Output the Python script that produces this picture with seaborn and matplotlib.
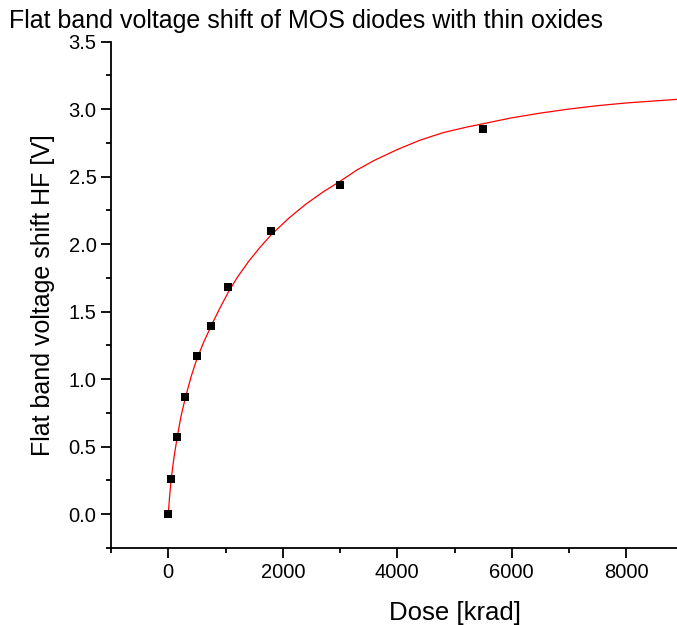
import numpy as np
import pandas as pd
import seaborn as sns
import matplotlib.pyplot as plt
from matplotlib.ticker import MultipleLocator

# measured points
dose = [0, 50, 150, 300, 500, 750, 1050, 1800, 3000, 5500]
shift = [0.0, 0.26, 0.57, 0.87, 1.17, 1.39, 1.68, 2.10, 2.44, 2.85]

# fit curve
fit_dose = [0, 25, 50, 100, 150, 220, 300, 400, 500, 620, 750, 900, 1050,
            1200, 1400, 1600, 1800, 2100, 2400, 2700, 3000, 3300, 3600, 4000,
            4400, 4800, 5200, 5600, 6000, 6500, 7000, 7500, 8000, 8500, 9000]
fit_shift = [0.0, 0.14, 0.255, 0.42, 0.555, 0.72, 0.865, 1.02, 1.15, 1.275,
             1.395, 1.525, 1.645, 1.75, 1.87, 1.975, 2.07, 2.19, 2.295, 2.385,
             2.465, 2.55, 2.62, 2.70, 2.77, 2.825, 2.865, 2.90, 2.935, 2.97,
             3.00, 3.025, 3.045, 3.06, 3.075]

sns.set_style("ticks")
plt.rcParams['font.family'] = ['Liberation Sans', 'DejaVu Sans']

fig = plt.figure(figsize=(6.77, 6.25), dpi=100)
ax = fig.add_axes([111 / 677, 1 - 548 / 625, 1 - 111 / 677, (548 - 41.5) / 625])

pts = pd.DataFrame({'dose': dose, 'shift': shift})
fit = pd.DataFrame({'dose': fit_dose, 'shift': fit_shift})

sns.lineplot(data=fit, x='dose', y='shift', color='red', linewidth=0.9, ax=ax, zorder=2)
sns.scatterplot(data=pts, x='dose', y='shift', marker='s', s=30, color='black',
                edgecolor='black', linewidth=0, ax=ax, zorder=3)

# original is cropped on the right, so the plot stops at ~8885 krad
ax.set_xlim(-1000, 8885)
ax.set_ylim(-0.25, 3.5)
ax.xaxis.set_major_locator(MultipleLocator(2000))
ax.xaxis.set_minor_locator(MultipleLocator(1000))
ax.yaxis.set_major_locator(MultipleLocator(0.5))
ax.yaxis.set_minor_locator(MultipleLocator(0.25))
ax.yaxis.set_major_formatter(plt.FormatStrFormatter('%.1f'))

sns.despine(ax=ax)
for sp in ['left', 'bottom']:
    ax.spines[sp].set_linewidth(1.3)
    ax.spines[sp].set_color('black')
ax.tick_params(which='major', direction='out', length=7, width=1.3, labelsize=14.5,
               colors='black', labelcolor='black')
ax.tick_params(which='minor', direction='out', length=3.5, width=1.3, colors='black')

ax.set_xlabel('Dose [krad]', fontsize=18.5, color='black')
ax.xaxis.set_label_coords((455 - 111) / (677 - 111), -0.105)
ax.set_ylabel('Flat band voltage shift HF [V]', fontsize=18, labelpad=10, color='black')
fig.text(0.013, 0.967, 'Flat band voltage shift of MOS diodes with thin oxides',
         fontsize=18, ha='left', va='center', color='black')

fig.savefig('out.png', dpi=100)
